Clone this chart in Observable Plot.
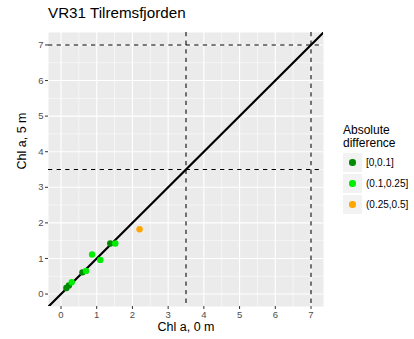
<!DOCTYPE html>
<html>
<head>
<meta charset="utf-8">
<script src="https://cdn.jsdelivr.net/npm/d3@7"></script>
<script src="https://cdn.jsdelivr.net/npm/@observablehq/plot@0.6"></script>
<style>
  html, body { margin: 0; padding: 0; background: #fff; }
  #wrap { position: relative; width: 414px; height: 339px; font-family: "Liberation Sans", Arial, sans-serif; }
  #title { position: absolute; left: 48px; top: 4px; font-size: 15.2px; color: #000; white-space: nowrap; }
  #legend { position: absolute; left: 343px; top: 124px; font-size: 10px; color: #000; }
  #legend .lt { font-size: 12px; line-height: 13px; margin-bottom: 3px; white-space: nowrap; }
  #legend .row { display: flex; align-items: center; height: 19px; margin-bottom: 2px; white-space: nowrap; }
  #legend .key { width: 19px; height: 19px; background: #F2F2F2; position: relative; margin-right: 4px; }
  #legend .dot { position: absolute; width: 6.4px; height: 6.4px; border-radius: 50%; left: 6.3px; top: 6.3px; }
</style>
</head>
<body>
<div id="wrap">
  <div id="title"></div>
  <div id="legend"></div>
</div>
<script>
const titleText = "VR31 Tilremsfjorden";
const xLabel = "Chl a, 0 m";
const yLabel = "Chl a, 5 m";
const legendTitle = ["Absolute", "difference"];
const categories = ["[0,0.1]", "(0.1,0.25]", "(0.25,0.5]"];
const catColors = ["#008B00", "#00EE00", "#FFA500"];
const chl0m = [0.15, 0.22, 0.30, 0.60, 0.70, 0.87, 1.10, 1.38, 1.52, 2.20];
const chl5m = [0.17, 0.24, 0.33, 0.61, 0.65, 1.11, 0.96, 1.42, 1.42, 1.82];
const diffClass = ["[0,0.1]", "[0,0.1]", "(0.1,0.25]", "[0,0.1]", "(0.1,0.25]", "(0.1,0.25]", "(0.1,0.25]", "[0,0.1]", "(0.1,0.25]", "(0.25,0.5]"];
const majorTicks = [0, 1, 2, 3, 4, 5, 6, 7];
const minorTicks = [0.5, 1.5, 2.5, 3.5, 4.5, 5.5, 6.5];
const refLines = [3.5, 7];
const axisLimits = [-0.35, 7.35];

const points = chl0m.map((x, i) => ({x, y: chl5m[i], cls: diffClass[i]}));
const abline = axisLimits.map(v => ({x: v, y: v}));

const chart = Plot.plot({
  width: 414,
  height: 339,
  marginLeft: 48,
  marginRight: 91,
  marginTop: 32,
  marginBottom: 33,
  style: {fontFamily: "'Liberation Sans', Arial, sans-serif", background: "transparent", overflow: "visible"},
  x: {domain: axisLimits},
  y: {domain: axisLimits},
  color: {domain: categories, range: catColors},
  marks: [
    Plot.frame({fill: "#EBEBEB", stroke: null}),
    Plot.ruleX(minorTicks, {stroke: "white", strokeWidth: 0.55}),
    Plot.ruleY(minorTicks, {stroke: "white", strokeWidth: 0.55}),
    Plot.ruleX(majorTicks, {stroke: "white", strokeWidth: 1.1}),
    Plot.ruleY(majorTicks, {stroke: "white", strokeWidth: 1.1}),
    Plot.ruleX(refLines, {stroke: "black", strokeWidth: 1.07, strokeDasharray: "4.3,4.3"}),
    Plot.ruleY(refLines, {stroke: "black", strokeWidth: 1.07, strokeDasharray: "4.3,4.3"}),
    Plot.line(abline, {x: "x", y: "y", stroke: "black", strokeWidth: 2.2, clip: true}),
    Plot.dot(points, {x: "x", y: "y", fill: "cls", r: 3.2}),
    Plot.axisX({ticks: majorTicks, tickSize: 3, tickPadding: 2, fontSize: 9.5, color: "#4D4D4D", stroke: "#333333", label: null, tickFormat: d => String(d)}),
    Plot.axisY({ticks: majorTicks, tickSize: 3, tickPadding: 2, fontSize: 9.5, color: "#4D4D4D", stroke: "#333333", label: null, tickFormat: d => String(d)}),
    Plot.text([xLabel], {text: d => d, frameAnchor: "bottom", dy: 24, fontSize: 12.5, fill: "black"}),
    Plot.text([yLabel], {text: d => d, frameAnchor: "left", dx: -27, rotate: -90, fontSize: 12.5, fill: "black"})
  ]
});
const wrap = document.getElementById("wrap");
chart.style.position = "absolute";
chart.style.left = "0px";
chart.style.top = "0px";
wrap.insertBefore(chart, wrap.firstChild);

document.getElementById("title").textContent = titleText;
const legend = document.getElementById("legend");
const lt = document.createElement("div");
lt.className = "lt";
lt.innerHTML = legendTitle.join("<br>");
legend.appendChild(lt);
categories.forEach((c, i) => {
  const row = document.createElement("div");
  row.className = "row";
  const key = document.createElement("div");
  key.className = "key";
  const dot = document.createElement("div");
  dot.className = "dot";
  dot.style.background = catColors[i];
  key.appendChild(dot);
  const lab = document.createElement("span");
  lab.textContent = c;
  row.appendChild(key);
  row.appendChild(lab);
  legend.appendChild(row);
});
</script>
</body>
</html>
